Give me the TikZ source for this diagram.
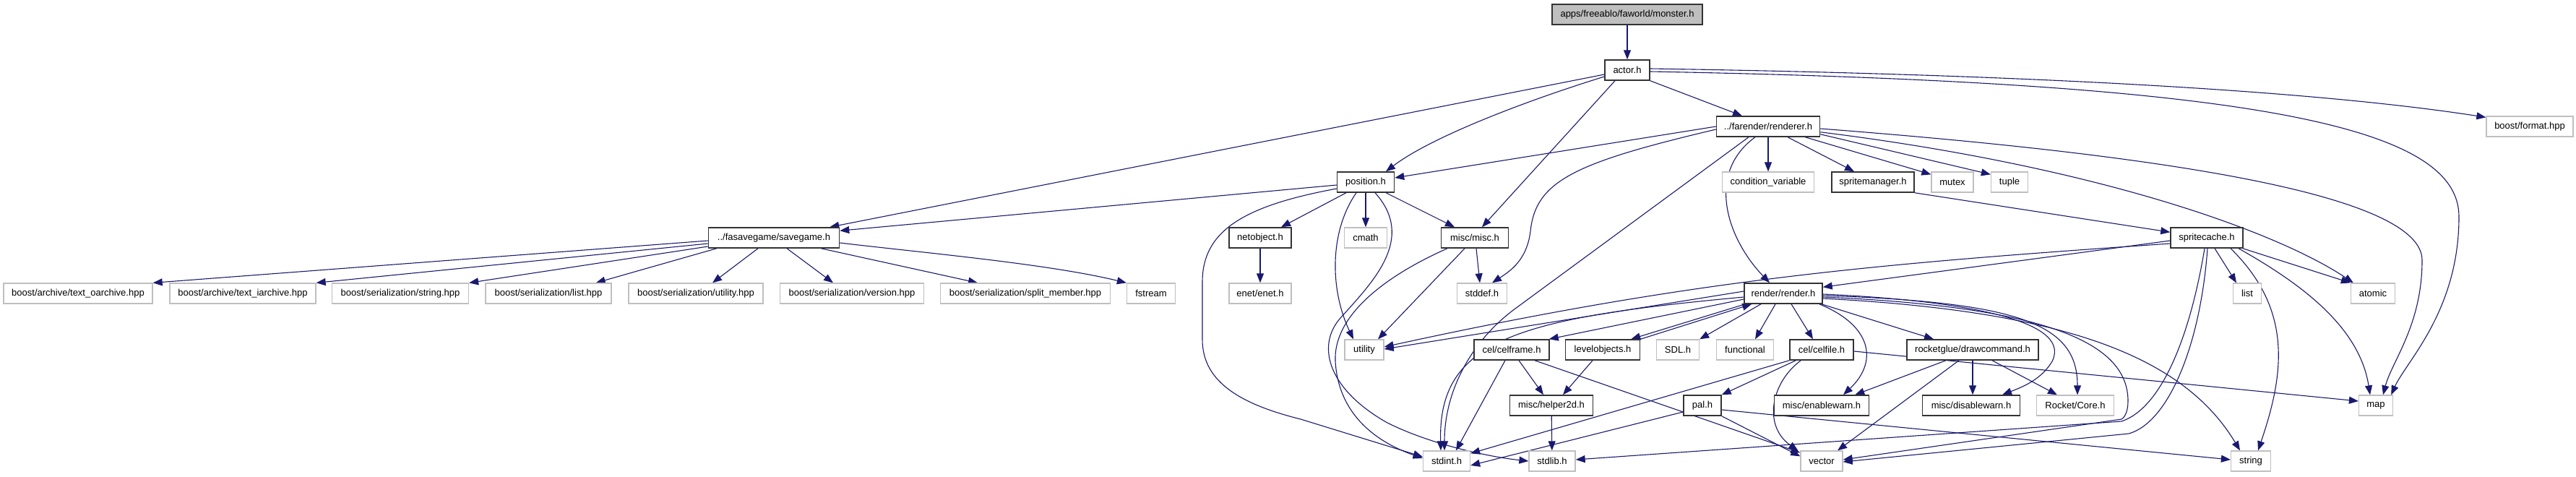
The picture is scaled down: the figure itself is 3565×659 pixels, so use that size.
\documentclass[tikz,border=0pt]{standalone}
\usepackage{fontspec}
\setmainfont{Liberation Sans}
\usetikzlibrary{arrows.meta,backgrounds}
\definecolor{edgecol}{HTML}{191970}
\definecolor{graybd}{HTML}{BFBFBF}
\definecolor{rootfill}{HTML}{BFBFBF}
\tikzset{
  box/.style={rectangle, inner sep=0pt, minimum height=28pt, font=\fontsize{13}{15}\selectfont, fill=white},
  doc/.style={box, draw=black!80, line width=1.5pt},
  sys/.style={box, draw=graybd, line width=1.3pt},
  root/.style={box, draw=black!80, line width=1.5pt, fill=rootfill},
  e/.style={draw=edgecol, line width=1.1pt, -{Triangle[length=13pt,width=10pt]}}
}
\begin{document}
\begin{tikzpicture}[x=1pt,y=-1pt]
\useasboundingbox (0,0) rectangle (3565,659);
% row 0-1
\node[root, minimum width=208] (monster) at (2252,20) {apps/freeablo/faworld/monster.h};
\node[doc, minimum width=62] (actor) at (2252,97) {actor.h};
% row 2
\node[doc, minimum width=143] (renderer) at (2447,175) {../farender/renderer.h};
\node[sys, minimum width=120] (bformat) at (3501,175) {boost/format.hpp};
% row 3
\node[doc, minimum width=79] (position) at (1890,252) {position.h};
\node[sys, minimum width=127] (condvar) at (2447,252) {condition\_variable};
\node[doc, minimum width=114] (spritemgr) at (2592,252) {spritemanager.h};
\node[sys, minimum width=58] (mutex) at (2702,252) {mutex};
\node[sys, minimum width=51] (tuple) at (2781,252) {tuple};
% row 4
\node[doc, minimum width=181] (savegame) at (1071,329) {../fasavegame/savegame.h};
\node[doc, minimum width=86] (netobject) at (1744,329) {netobject.h};
\node[sys, minimum width=59] (cmath) at (1890,329) {cmath};
\node[doc, minimum width=93] (misc) at (2041,329) {misc/misc.h};
\node[doc, minimum width=100] (spritecache) at (3054,329) {spritecache.h};
% row 5
\node[sys, minimum width=206] (toarch) at (108,406) {boost/archive/text\_oarchive.hpp};
\node[sys, minimum width=202] (tiarch) at (336,406) {boost/archive/text\_iarchive.hpp};
\node[sys, minimum width=189] (bstring) at (554,406) {boost/serialization/string.hpp};
\node[sys, minimum width=174] (blist) at (759,406) {boost/serialization/list.hpp};
\node[sys, minimum width=186] (butil) at (963,406) {boost/serialization/utility.hpp};
\node[sys, minimum width=199] (bversion) at (1179,406) {boost/serialization/version.hpp};
\node[sys, minimum width=235] (bsplit) at (1419,406) {boost/serialization/split\_member.hpp};
\node[sys, minimum width=67] (fstream) at (1593,406) {fstream};
\node[sys, minimum width=86] (enet) at (1744,406) {enet/enet.h};
\node[sys, minimum width=69] (stddef) at (2051,406) {stddef.h};
\node[doc, minimum width=108] (render) at (2468,406) {render/render.h};
\node[sys, minimum width=39] (list) at (3110,406) {list};
\node[sys, minimum width=61] (atomic) at (3284,406) {atomic};
% row 6
\node[sys, minimum width=54] (utility) at (1888,484) {utility};
\node[doc, minimum width=104] (celframe) at (2092,484) {cel/celframe.h};
\node[doc, minimum width=103] (levelobjects) at (2218,484) {levelobjects.h};
\node[sys, minimum width=59] (sdl) at (2322,484) {SDL.h};
\node[sys, minimum width=79] (functional) at (2415,484) {functional};
\node[doc, minimum width=88] (celfile) at (2521,484) {cel/celfile.h};
\node[doc, minimum width=182] (drawcmd) at (2730,484) {rocketglue/drawcommand.h};
% row 7
\node[doc, minimum width=115] (helper2d) at (2147,561) {misc/helper2d.h};
\node[doc, minimum width=52] (pal) at (2356,561) {pal.h};
\node[doc, minimum width=131] (enablewarn) at (2521,561) {misc/enablewarn.h};
\node[doc, minimum width=135] (disablewarn) at (2728,561) {misc/disablewarn.h};
\node[sys, minimum width=107] (rocketcore) at (2872,561) {Rocket/Core.h};
\node[sys, minimum width=47] (map) at (3288,561) {map};
% row 8
\node[sys, minimum width=65] (stdint) at (2002,638) {stdint.h};
\node[sys, minimum width=64] (stdlib) at (2148,638) {stdlib.h};
\node[sys, minimum width=58] (vector) at (2521,638) {vector};
\node[sys, minimum width=55] (string) at (3115,638) {string};

\begin{scope}[on background layer]
% monster / actor
\draw[e] (monster) -- (actor);
\draw[e] ([yshift=-6pt]actor.west) -- ([xshift=-14pt]savegame.north east);
\draw[e] ([yshift=-9pt]actor.west) .. controls (2110,140) and (1980,190) .. ([xshift=28pt]position.north);
\draw[e] ([xshift=-17pt]actor.south) -- ([xshift=10pt]misc.north);
\draw[e] (actor.south east) -- ([xshift=-36pt]renderer.north);
\draw[e] ([yshift=2pt]actor.east) .. controls (2800,103) and (3200,125) .. ([yshift=-2pt]bformat.north west);
\draw[e] ([yshift=-2pt]actor.east) .. controls (3150,115) and (3403,180) .. (3403,300) .. controls (3403,430) and (3330,500) .. ([xshift=-3pt]map.north east);
% renderer
\draw[e] (renderer.west) -- ([yshift=6pt]position.east);
\draw[e] ([yshift=-4pt]renderer.west) .. controls (2180,225) and (2125,250) .. (2118,320) .. controls (2113,360) and (2090,375) .. ([xshift=14pt]stddef.north);
\draw[e] ([xshift=-27pt]renderer.south) -- (2097,427) .. controls (2037,471) and (1999,540) .. ([xshift=-3pt]stdint.north);
\draw[e] ([xshift=-18pt]renderer.south) .. controls (2360,240) and (2390,330) .. ([xshift=-19pt]render.north);
\draw[e] (renderer) -- (condvar);
\draw[e] ([xshift=27pt]renderer.south) -- ([xshift=-26pt]spritemgr.north);
\draw[e] ([xshift=-21pt]renderer.south east) -- ([yshift=-4pt]mutex.north west);
\draw[e] ([yshift=4pt]renderer.south east) -- ([yshift=-4pt]tuple.north west);
\draw[e] ([yshift=7pt]renderer.south east) .. controls (2900,230) and (3150,320) .. ([xshift=4pt]atomic.north west);
\draw[e] ([yshift=-3pt]renderer.east) .. controls (3000,215) and (3352,270) .. (3352,360) .. controls (3352,450) and (3310,500) .. ([xshift=10pt]map.north);
% spritemanager / spritecache
\draw[e] (spritemgr.south east) -- ([yshift=-7pt]spritecache.north west);
\draw[e] ([yshift=-4pt]spritecache.west) -- ([yshift=-6pt]render.north east);
\draw[e] ([yshift=-8pt]spritecache.west) .. controls (2600,365) and (2350,385) .. ([yshift=4pt]utility.east);
\draw[e] ([xshift=11pt]spritecache.south) -- ([xshift=-15pt]list.north);
\draw[e] ([xshift=-1pt]spritecache.south east) -- (atomic.north west);
\draw[e] ([xshift=44pt]spritecache.south) .. controls (3180,390) and (3265,450) .. ([xshift=-8pt]map.north);
\draw[e] ([xshift=33pt]spritecache.south) .. controls (3175,430) and (3160,520) .. ([xshift=10pt]string.north);
\draw[e] ([xshift=1pt]spritecache.south) .. controls (3045,480) and (3000,585) .. (2946,600) -- ([yshift=-1pt]vector.east);
\draw[e] ([xshift=-3pt]spritecache.south) .. controls (3030,470) and (2990,565) .. (2936,583) -- ([yshift=2pt]stdlib.east);
% render.h
\draw[e] ([yshift=3pt]render.west) -- ([yshift=1pt]utility.east);
\draw[e] ([yshift=-5pt]render.west) .. controls (2100,440) and (1990,470) .. ([xshift=-8pt]stdint.north);
\draw[e] ([yshift=-8pt]render.west) -- ([xshift=-1pt]celframe.north east);
\draw[e] ([xshift=2pt]render.south west) -- ([xshift=-13pt]levelobjects.north east);
\draw[e] (levelobjects.north east) -- ([xshift=11pt]render.south west);
\draw[e] ([xshift=-31pt]render.south) -- (sdl.north east);
\draw[e] ([xshift=-11pt]render.south) -- ([xshift=14pt]functional.north);
\draw[e] ([xshift=11pt]render.south) -- ([xshift=-12pt]celfile.north);
\draw[e] ([xshift=-5pt]render.south east) .. controls (2590,450) and (2600,500) .. ([xshift=30pt]enablewarn.north);
\draw[e] ([xshift=-2pt]render.south east) -- ([xshift=-54pt]drawcmd.north);
\draw[e] ([yshift=-1pt]render.east) .. controls (2700,415) and (2870,440) .. (2840,500) .. controls (2825,525) and (2800,535) .. ([xshift=43pt]disablewarn.north);
\draw[e] ([yshift=-3pt]render.east) .. controls (2800,418) and (2875,450) .. ([xshift=3pt]rocketcore.north);
\draw[e] ([yshift=-5pt]render.east) .. controls (2850,425) and (2945,480) .. (2945,555) .. controls (2945,570) and (2940,578) .. (2936,580) -- ([yshift=2pt]vector.east);
\draw[e] ([yshift=-7pt]render.east) .. controls (2850,430) and (3020,490) .. ([xshift=-15pt]string.north);
% celframe, levelobjects, helper2d
\draw[e] ([xshift=-9pt]celframe.south) -- ([xshift=13pt]stdint.north);
\draw[e] ([xshift=10pt]celframe.south) -- ([xshift=-11pt]helper2d.north);
\draw[e] ([xshift=32pt]celframe.south) -- ([yshift=-3pt]vector.north west);
\draw[e] ([xshift=-14pt]levelobjects.south) -- ([xshift=16pt]helper2d.north);
\draw[e] (helper2d) -- (stdlib);
% celfile
\draw[e] (celfile.south west) -- ([yshift=-4pt]stdint.north east);
\draw[e] ([xshift=9pt]celfile.south west) -- (pal.north east);
\draw[e] ([xshift=16pt]celfile.south west) .. controls (2450,530) and (2440,590) .. ([xshift=-3pt]vector.north west);
\draw[e] ([yshift=-2pt]celfile.east) -- ([yshift=6pt]map.west);
% pal
\draw[e] ([yshift=-9pt]pal.west) -- ([yshift=-6pt]stdint.east);
\draw[e] (pal.south east) -- ([yshift=-8pt]vector.north west);
\draw[e] ([yshift=-6pt]pal.east) -- ([yshift=2pt]string.west);
% drawcommand
\draw[e] ([xshift=-37pt]drawcmd.south) -- ([xshift=-20pt]enablewarn.north east);
\draw[e] ([xshift=-19pt]drawcmd.south) -- ([xshift=22pt]vector.north);
\draw[e] (drawcmd.south) -- ([xshift=2pt]disablewarn.north);
\draw[e] ([xshift=27pt]drawcmd.south) -- ([xshift=-25pt]rocketcore.north);
% position
\draw[e] ([yshift=-4pt]position.west) -- ([yshift=-5pt]savegame.north east);
\draw[e] ([yshift=-9pt]position.west) .. controls (1720,285) and (1664,320) .. (1664,390) -- (1664,470) .. controls (1664,530) and (1720,560) .. (1800,580) -- ([yshift=6pt]stdint.west);
\draw[e] ([xshift=-27pt]position.south) -- ([xshift=29pt]netobject.north);
\draw[e] ([xshift=-13pt]position.south) .. controls (1840,320) and (1840,400) .. ([xshift=-15pt]utility.north);
\draw[e] (position) -- (cmath);
\draw[e] ([xshift=13pt]position.south) .. controls (1960,330) and (1900,390) .. (1855,440) .. controls (1820,480) and (1840,540) .. (1920,585) .. controls (1980,615) and (2060,632) .. (stdlib.west);
\draw[e] ([xshift=28pt]position.south) -- ([xshift=-28pt]misc.north);
% misc
\draw[e] ([xshift=2pt]misc.south) -- ([xshift=-3pt]stddef.north);
\draw[e] ([xshift=-14pt]misc.south) -- ([xshift=19pt]utility.north);
\draw[e] ([xshift=-38pt]misc.south) .. controls (1910,385) and (1845,440) .. (1848,500) .. controls (1852,570) and (1900,610) .. ([yshift=4pt]stdint.west);
% netobject
\draw[e] (netobject) -- (enet);
% savegame
\draw[e] ([yshift=-4pt]savegame.west) -- (toarch.north east);
\draw[e] ([yshift=-8pt]savegame.west) -- (tiarch.north east);
\draw[e] ([yshift=-12pt]savegame.west) -- (bstring.north east);
\draw[e] ([xshift=12pt]savegame.south west) -- ([xshift=-22pt]blist.north east);
\draw[e] ([xshift=-22pt]savegame.south) -- ([xshift=23pt]butil.north);
\draw[e] ([xshift=18pt]savegame.south) -- ([xshift=-26pt]bversion.north);
\draw[e] ([xshift=-26pt]savegame.south east) -- ([xshift=-66pt]bsplit.north);
\draw[e] ([yshift=-7pt]savegame.east) .. controls (1280,350) and (1450,365) .. (fstream.north west);
\end{scope}
\end{tikzpicture}
\end{document}
